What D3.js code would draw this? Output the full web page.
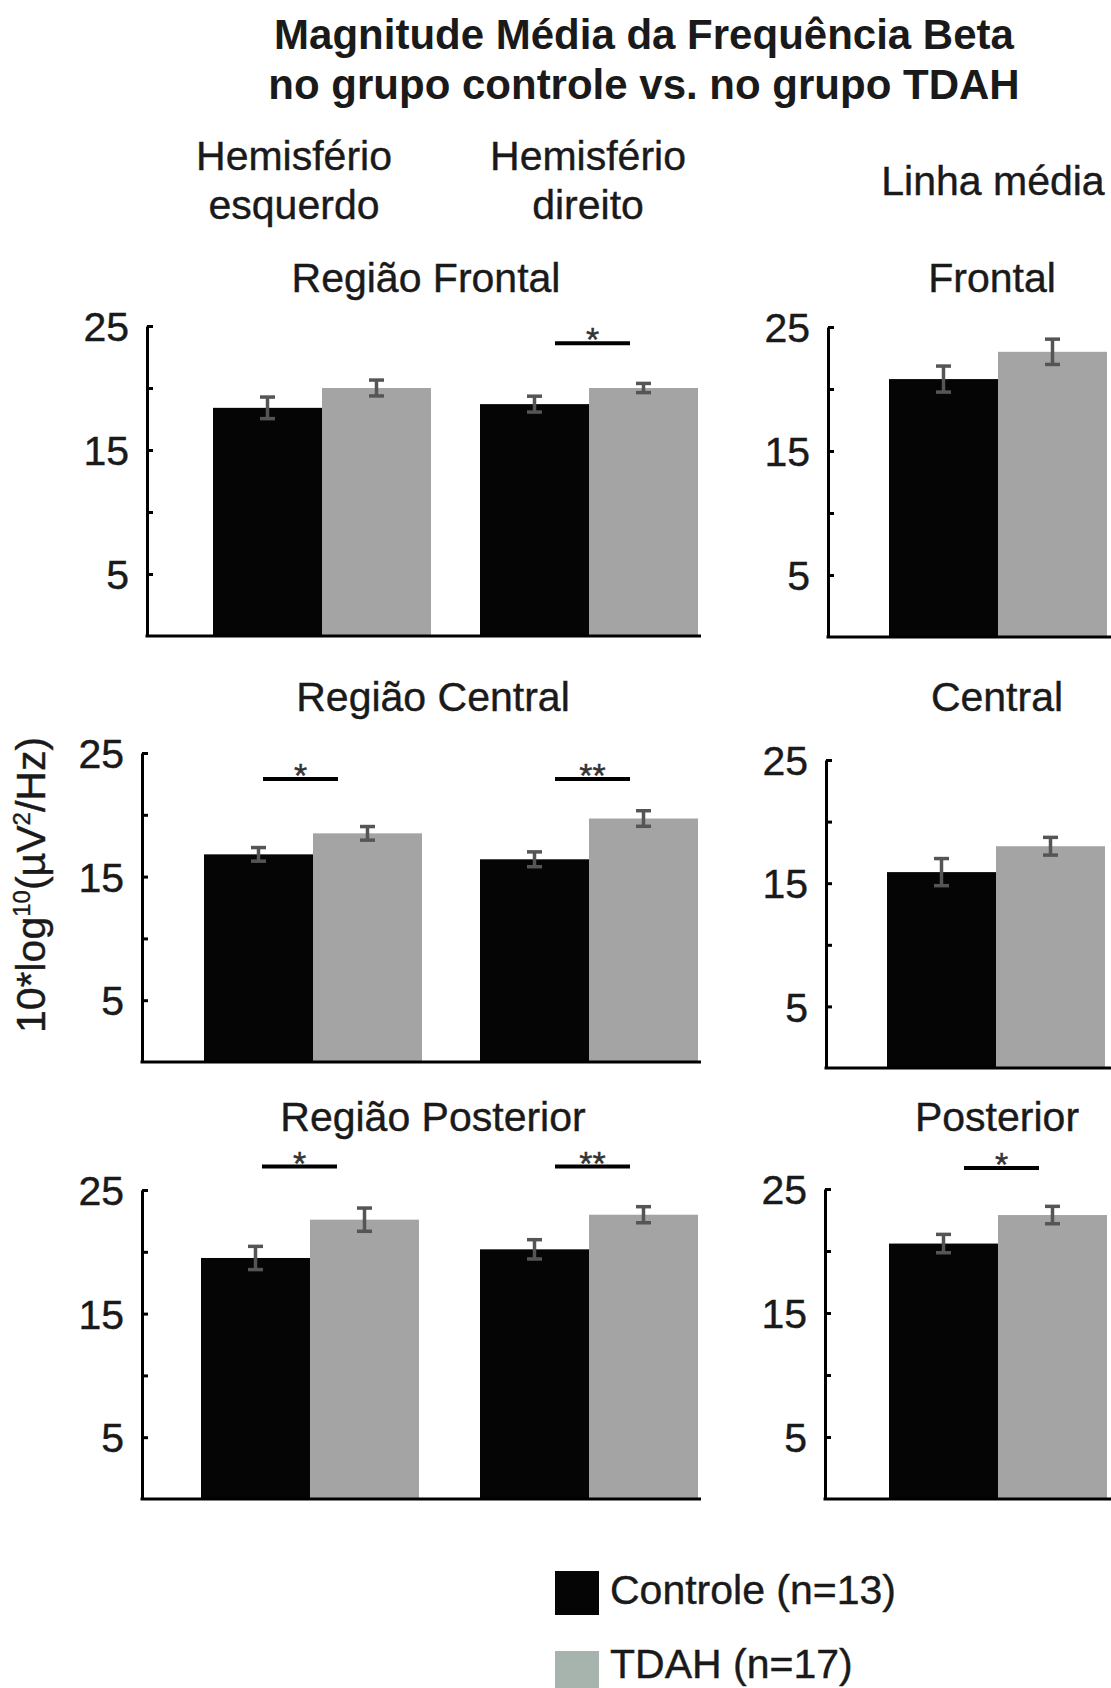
<!DOCTYPE html>
<html>
<head>
<meta charset="utf-8">
<title>Magnitude Média da Frequência Beta</title>
<script src="https://cdn.jsdelivr.net/npm/d3@7"></script>
<style>
  body { margin: 0; background: #fff; }
  svg text { font-family: "Liberation Sans", Arial, sans-serif; fill: #1a1a1a; stroke: #1a1a1a; stroke-width: 0.4px; }
  svg text.title { stroke-width: 0; }
</style>
</head>
<body>
<script>
// ---- data ----
var titleLines = ["Magnitude Média da Frequência Beta", "no grupo controle vs. no grupo TDAH"];
var colHeaders = [["Hemisfério", "esquerdo"], ["Hemisfério", "direito"], ["Linha média"]];
var panelNames = ["Região Frontal", "Frontal", "Região Central", "Central", "Região Posterior", "Posterior"];
var groups = ["Controle (n=13)", "TDAH (n=17)"];

// one inner array per panel: [hemisfério esquerdo, hemisfério direito] or [linha média]
var controleMean = [[18.4, 18.7], [20.8], [16.8, 16.4], [15.9], [19.5, 20.2], [20.6]];
var controleErr  = [[0.87, 0.64], [1.05], [0.55, 0.6], [1.1], [0.94, 0.78], [0.74]];
var tdahMean     = [[20.0, 20.0], [23.0], [18.5, 19.7], [18.0], [22.6, 23.0], [22.9]];
var tdahErr      = [[0.64, 0.37], [1.02], [0.55, 0.63], [0.72], [0.94, 0.65], [0.7]];

var yTicks = [5, 10, 15, 20, 25];
var yTickLabels = ["5", "", "15", "", "25"];
var yLabel = "10*log";

// significance marks
var sigPanel = [0, 2, 2, 4, 4, 5];
var sigGroup = [1, 0, 1, 0, 1, 0];
var sigLabel = ["*", "*", "**", "*", "**", "*"];
var sigY     = [23.6, 22.9, 22.9, 26.9, 26.9, 26.7];

// ---- layout ----
var width = 1111, height = 1688;
var barW = 109;
var layout = [
  {ax: 147, top: 326, base: 636, c: [322, 589], end: 701, tx: 426, ty: 292},
  {ax: 828, top: 327, base: 637, c: [998],      end: 1111, tx: 992, ty: 292},
  {ax: 142, top: 753, base: 1062, c: [313, 589], end: 701, tx: 433, ty: 711},
  {ax: 826, top: 760, base: 1068, c: [996],      end: 1111, tx: 997, ty: 711},
  {ax: 142, top: 1190, base: 1499, c: [310, 589], end: 701, tx: 433, ty: 1131},
  {ax: 825, top: 1189, base: 1499, c: [998],      end: 1111, tx: 997, ty: 1131}
];
var sigDx = [0, -16, 0, -14, 0, 0];
var colors = ["#050505", "#a5a4a5"];
var legendColors = ["#050505", "#a7b3ad"];

var svg = d3.select("body").append("svg")
    .attr("width", width)
    .attr("height", height);

svg.append("rect").attr("width", width).attr("height", height).attr("fill", "#fff");

// title
svg.selectAll(".title")
    .data(titleLines)
    .enter()
    .append("text")
    .attr("class", "title")
    .attr("x", 644)
    .attr("y", function(d, i) { return 49 + i * 50; })
    .attr("text-anchor", "middle")
    .attr("font-size", 42)
    .attr("font-weight", "bold")
    .text(function(d) { return d; });

// column headers
var headerX = [294, 588, 993];
colHeaders.forEach(function(lines, i) {
    var t = svg.append("text")
        .attr("x", headerX[i])
        .attr("y", lines.length == 1 ? 195 : 170)
        .attr("text-anchor", "middle")
        .attr("font-size", 41);
    lines.forEach(function(l, j) {
        t.append("tspan").attr("x", headerX[i]).attr("dy", j == 0 ? 0 : 49).text(l);
    });
});

// y label
var yl = svg.append("text")
    .attr("transform", "translate(45,885) rotate(-90)")
    .attr("text-anchor", "middle")
    .attr("font-size", 41);
yl.append("tspan").text(yLabel);
yl.append("tspan").attr("font-size", 24).attr("dy", -15).text("10");
yl.append("tspan").attr("dy", 15).text("(µV");
yl.append("tspan").attr("font-size", 24).attr("dy", -15).text("2");
yl.append("tspan").attr("dy", 15).text("/Hz)");

// panels
panelNames.forEach(function(name, p) {
    var L = layout[p];
    var g = svg.append("g").attr("class", "panel");

    var y = d3.scaleLinear().domain([0, 25]).range([L.base, L.top]);
    var x = d3.scaleLinear().domain([0, 1]).range([L.c[0], L.c.length > 1 ? L.c[1] : L.c[0] + 267]);

    g.append("text")
        .attr("x", L.tx)
        .attr("y", L.ty)
        .attr("text-anchor", "middle")
        .attr("font-size", 41)
        .text(name);

    var rows = [];
    controleMean[p].forEach(function(v, k) {
        rows.push({k: k, s: 0, v: v, e: controleErr[p][k]});
        rows.push({k: k, s: 1, v: tdahMean[p][k], e: tdahErr[p][k]});
    });

    g.selectAll(".bar")
        .data(rows)
        .enter()
        .append("rect")
        .attr("class", "bar")
        .attr("x", function(d) { return d.s == 0 ? x(d.k) - barW : x(d.k); })
        .attr("width", barW)
        .attr("y", function(d) { return y(d.v); })
        .attr("height", function(d) { return y(0) - y(d.v); })
        .attr("fill", function(d) { return colors[d.s]; });

    // error bars
    var eb = g.selectAll(".err")
        .data(rows)
        .enter()
        .append("g")
        .attr("class", "err")
        .attr("stroke", "#555")
        .attr("stroke-width", 3.5);
    function cx(d) { return d.s == 0 ? x(d.k) - barW / 2 : x(d.k) + barW / 2; }
    eb.append("line")
        .attr("x1", cx).attr("x2", cx)
        .attr("y1", function(d) { return y(d.v - d.e); })
        .attr("y2", function(d) { return y(d.v + d.e); });
    [-1, 1].forEach(function(sgn) {
        eb.append("line")
            .attr("x1", function(d) { return cx(d) - 7.5; })
            .attr("x2", function(d) { return cx(d) + 7.5; })
            .attr("y1", function(d) { return y(d.v + sgn * d.e); })
            .attr("y2", function(d) { return y(d.v + sgn * d.e); });
    });

    // y axis
    var axis = d3.axisLeft(y)
        .tickValues(yTicks)
        .tickFormat(function(d, i) { return yTickLabels[i]; })
        .tickSizeInner(-6)
        .tickSizeOuter(0)
        .tickPadding(18);
    var ag = g.append("g")
        .attr("transform", "translate(" + L.ax + ",0)")
        .call(axis);
    ag.select(".domain").attr("stroke", "#000").attr("stroke-width", 3);
    ag.selectAll(".tick line").attr("stroke", "#000").attr("stroke-width", 3);
    ag.selectAll(".tick text")
        .attr("font-size", 41)
        .attr("font-family", "Liberation Sans, Arial, sans-serif")
        .attr("fill", "#1a1a1a")
        .attr("dy", "0.36em");

    // x axis line
    g.append("line")
        .attr("x1", L.ax - 1.5).attr("x2", L.end)
        .attr("y1", y(0)).attr("y2", y(0))
        .attr("stroke", "#000")
        .attr("stroke-width", 3);

    // significance
    sigPanel.forEach(function(sp, i) {
        if (sp != p) return;
        var mid = x(sigGroup[i]) + 3.5 + sigDx[i];
        g.append("line")
            .attr("x1", mid - 37.5).attr("x2", mid + 37.5)
            .attr("y1", y(sigY[i])).attr("y2", y(sigY[i]))
            .attr("stroke", "#000")
            .attr("stroke-width", 4);
        g.append("text")
            .attr("x", mid)
            .attr("y", y(sigY[i]) + 8)
            .attr("text-anchor", "middle")
            .attr("font-size", 34)
            .style("fill", "#333")
            .style("stroke", "#333")
            .text(sigLabel[i]);
    });
});

// legend
var lg = svg.append("g").attr("class", "legend");
lg.selectAll("rect")
    .data(groups)
    .enter()
    .append("rect")
    .attr("x", 555)
    .attr("y", function(d, i) { return 1571 + i * 80; })
    .attr("width", 44)
    .attr("height", 44)
    .attr("fill", function(d, i) { return legendColors[i]; });
lg.selectAll("text")
    .data(groups)
    .enter()
    .append("text")
    .attr("x", 610)
    .attr("y", function(d, i) { return 1604 + i * 74; })
    .attr("font-size", 41)
    .text(function(d) { return d; });
</script>
</body>
</html>
